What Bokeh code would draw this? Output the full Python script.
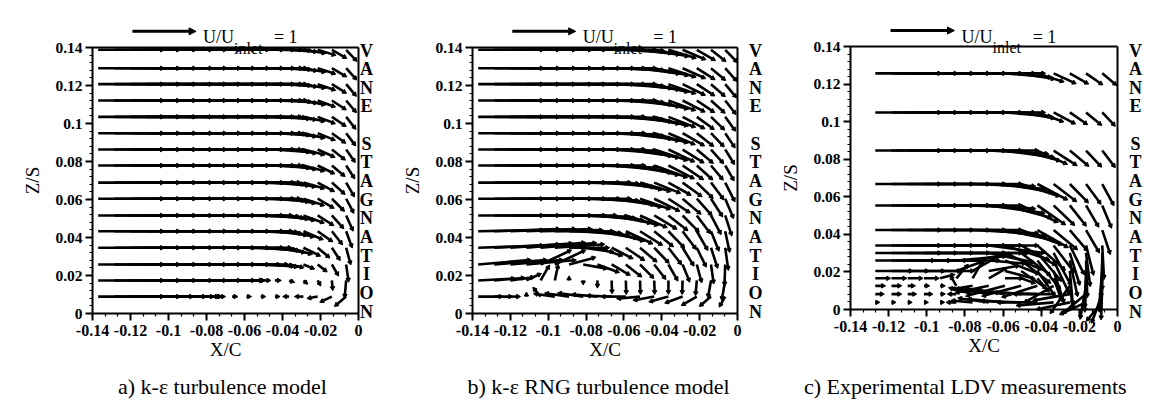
import numpy as np
from bokeh.plotting import figure
from bokeh.layouts import row
from bokeh.models import Label, Arrow, NormalHead, FixedTicker, CustomJSTickFormatter, ColumnDataSource
from bokeh.embed import file_html
from bokeh.resources import INLINE

# ---------------- data ----------------
X_TICKS = [-0.14, -0.12, -0.10, -0.08, -0.06, -0.04, -0.02, 0.0]
X_TICK_LABELS = ["-0.14", "-0.12", "-0.1", "-0.08", "-0.06", "-0.04", "-0.02", "0"]
Z_TICKS = [0.0, 0.02, 0.04, 0.06, 0.08, 0.10, 0.12, 0.14]
Z_TICK_LABELS = ["0", "0.02", "0.04", "0.06", "0.08", "0.1", "0.12", "0.14"]

CAPTIONS = ["a) k-\u03b5 turbulence model", "b) k-\u03b5 RNG turbulence model",
            "c) Experimental LDV measurements"]
VANE_TEXT = "VANE STAGNATION"
REF_SPEED = 1.0   # reference vector: U/U_inlet = 1

# CFD grid (panels a and b): X/C of vector tails, Z/S of rows
X_COLS_AB = [-0.137, -0.1285, -0.120, -0.1115, -0.104, -0.0965, -0.089, -0.0815, -0.074,
             -0.0665, -0.059, -0.0515, -0.044, -0.0365, -0.029, -0.0215, -0.014, -0.0065]
Z_ROWS_AB = [0.0089, 0.0174, 0.0258, 0.0346, 0.0433, 0.0516, 0.0604, 0.0689,
             0.0779, 0.0863, 0.0949, 0.1035, 0.1121, 0.1207, 0.1291, 0.1388]

# a) k-eps : flow angle (deg, 0 = +X/C, negative = toward floor) and speed U/U_inlet
A_ANGLE = [
    [0, 0, 0, 0, 0, 0, 0, 0, 0, 0, 0, 0, 0, 180, 180, -170, -155, -140],
    [0, 0, 0, 0, 0, 0, 0, 0, 0, 0, 0, 0, 0, -20, -40, -60, -85, -95],
    [0, 0, 0, 0, 0, 0, 0, 0, 0, 0, -1, -3, -6, -12, -22, -38, -60, -82],
    [0, 0, 0, 0, 0, 0, 0, 0, 0, 0, -2, -4, -9, -16, -26, -40, -57, -75],
    [0, 0, 0, 0, 0, 0, 0, 0, 0, 0, -1, -3, -7, -13, -23, -35, -52, -70],
    [0, 0, 0, 0, 0, 0, 0, 0, 0, 0, -1, -3, -6, -11, -20, -32, -48, -66],
    [0, 0, 0, 0, 0, 0, 0, 0, 0, 0, 0, -2, -5, -10, -18, -30, -45, -62],
    [0, 0, 0, 0, 0, 0, 0, 0, 0, 0, 0, -2, -5, -9, -16, -28, -42, -60],
    [0, 0, 0, 0, 0, 0, 0, 0, 0, 0, 0, -1, -4, -8, -15, -26, -40, -57],
    [0, 0, 0, 0, 0, 0, 0, 0, 0, 0, 0, -1, -4, -8, -14, -24, -38, -55],
    [0, 0, 0, 0, 0, 0, 0, 0, 0, 0, 0, -1, -3, -7, -13, -22, -36, -53],
    [0, 0, 0, 0, 0, 0, 0, 0, 0, 0, 0, -1, -3, -6, -12, -21, -34, -52],
    [0, 0, 0, 0, 0, 0, 0, 0, 0, 0, 0, 0, -2, -5, -11, -20, -33, -50],
    [0, 0, 0, 0, 0, 0, 0, 0, 0, 0, 0, 0, -2, -5, -10, -19, -32, -50],
    [0, 0, 0, 0, 0, 0, 0, 0, 0, 0, 0, 0, -2, -5, -10, -18, -30, -48],
    [0, 0, 0, 0, 0, 0, 0, 0, 0, 0, 0, 0, -1, -4, -9, -17, -30, -47],
]
A_SPEED = [
    [1.0, 1.0, 0.95, 0.9, 0.8, 0.65, 0.45, 0.25, 0.08, 0.05, 0.04, 0.04, 0.04, 0.06, 0.1, 0.13, 0.17, 0.2],
    [1.0, 1.0, 1.0, 1.0, 1.0, 1.0, 1.0, 0.9, 0.7, 0.45, 0.25, 0.12, 0.06, 0.05, 0.05, 0.06, 0.12, 0.24],
    [1.0, 1.0, 1.0, 1.0, 1.0, 1.0, 1.0, 1.0, 0.95, 0.85, 0.7, 0.5, 0.33, 0.2, 0.15, 0.15, 0.17, 0.24],
    [1.0, 1.0, 1.0, 1.0, 1.0, 1.0, 1.0, 1.0, 1.0, 0.9, 0.75, 0.58, 0.45, 0.34, 0.26, 0.21, 0.2, 0.24],
    [1.0, 1.0, 1.0, 1.0, 1.0, 1.0, 1.0, 1.0, 1.0, 0.92, 0.78, 0.62, 0.48, 0.37, 0.3, 0.25, 0.23, 0.24],
    [1.0, 1.0, 1.0, 1.0, 1.0, 1.0, 1.0, 1.0, 1.0, 0.92, 0.8, 0.65, 0.5, 0.38, 0.31, 0.26, 0.24, 0.23],
    [1.0, 1.0, 1.0, 1.0, 1.0, 1.0, 1.0, 1.0, 1.0, 0.95, 0.82, 0.66, 0.51, 0.39, 0.31, 0.26, 0.24, 0.22],
    [1.0, 1.0, 1.0, 1.0, 1.0, 1.0, 1.0, 1.0, 1.0, 0.95, 0.82, 0.66, 0.51, 0.39, 0.31, 0.26, 0.24, 0.22],
    [1.0, 1.0, 1.0, 1.0, 1.0, 1.0, 1.0, 1.0, 1.0, 0.95, 0.84, 0.68, 0.52, 0.4, 0.31, 0.26, 0.23, 0.21],
    [1.0, 1.0, 1.0, 1.0, 1.0, 1.0, 1.0, 1.0, 1.0, 0.95, 0.84, 0.68, 0.52, 0.4, 0.31, 0.26, 0.23, 0.21],
    [1.0, 1.0, 1.0, 1.0, 1.0, 1.0, 1.0, 1.0, 1.0, 0.95, 0.84, 0.68, 0.52, 0.4, 0.31, 0.26, 0.23, 0.21],
    [1.0, 1.0, 1.0, 1.0, 1.0, 1.0, 1.0, 1.0, 1.0, 0.95, 0.84, 0.68, 0.52, 0.4, 0.31, 0.26, 0.23, 0.21],
    [1.0, 1.0, 1.0, 1.0, 1.0, 1.0, 1.0, 1.0, 1.0, 0.95, 0.85, 0.7, 0.54, 0.41, 0.32, 0.26, 0.23, 0.21],
    [1.0, 1.0, 1.0, 1.0, 1.0, 1.0, 1.0, 1.0, 1.0, 0.95, 0.85, 0.7, 0.54, 0.41, 0.32, 0.26, 0.23, 0.21],
    [1.0, 1.0, 1.0, 1.0, 1.0, 1.0, 1.0, 1.0, 1.0, 0.95, 0.85, 0.7, 0.54, 0.41, 0.32, 0.26, 0.23, 0.21],
    [1.0, 1.0, 1.0, 1.0, 1.0, 1.0, 1.0, 1.0, 1.0, 0.95, 0.85, 0.7, 0.54, 0.41, 0.32, 0.26, 0.23, 0.21],
]

# b) k-eps RNG
B_ANGLE = [
    [0, 0, 0, 90, 130, 172, 172, 172, 175, 178, 180, -175, -170, -165, -160, -150, -140, -120],
    [3, 5, 8, 25, 60, 78, 90, -90, -90, -88, -88, -88, -88, -90, -92, -95, -100, -100],
    [5, 5, 5, 5, 25, 25, 15, -10, -20, -30, -38, -45, -52, -60, -68, -75, -82, -92],
    [2, 3, 4, 5, 5, 4, 0, -8, -18, -27, -34, -40, -46, -52, -58, -64, -72, -82],
    [1, 2, 2, 2, 1, 0, -2, -5, -10, -17, -25, -32, -39, -46, -53, -60, -68, -78],
    [0, 0, 0, 0, 0, 0, -1, -3, -6, -11, -17, -24, -31, -38, -45, -53, -62, -72],
    [0, 0, 0, 0, 0, 0, 0, -2, -4, -8, -13, -19, -26, -33, -40, -48, -57, -67],
    [0, 0, 0, 0, 0, 0, 0, -1, -3, -6, -11, -16, -22, -29, -36, -44, -53, -63],
    [0, 0, 0, 0, 0, 0, 0, 0, -2, -5, -9, -14, -20, -27, -34, -42, -50, -60],
    [0, 0, 0, 0, 0, 0, 0, 0, -1, -4, -8, -12, -18, -25, -32, -40, -48, -58],
    [0, 0, 0, 0, 0, 0, 0, 0, -1, -3, -7, -11, -16, -23, -30, -38, -46, -56],
    [0, 0, 0, 0, 0, 0, 0, 0, -1, -3, -6, -10, -15, -21, -28, -36, -44, -54],
    [0, 0, 0, 0, 0, 0, 0, 0, 0, -2, -5, -9, -14, -20, -27, -34, -42, -52],
    [0, 0, 0, 0, 0, 0, 0, 0, 0, -2, -5, -8, -13, -19, -26, -33, -41, -50],
    [0, 0, 0, 0, 0, 0, 0, 0, 0, -2, -4, -8, -12, -18, -24, -32, -40, -48],
    [0, 0, 0, 0, 0, 0, 0, 0, 0, -1, -4, -7, -11, -17, -23, -30, -38, -46],
]
B_SPEED = [
    [0.35, 0.25, 0.12, 0.03, 0.15, 0.3, 0.35, 0.37, 0.37, 0.36, 0.35, 0.33, 0.3, 0.28, 0.26, 0.24, 0.2, 0.15],
    [0.55, 0.45, 0.35, 0.22, 0.24, 0.22, 0.03, 0.03, 0.08, 0.17, 0.18, 0.18, 0.18, 0.18, 0.18, 0.2, 0.24, 0.28],
    [0.8, 0.8, 0.8, 0.75, 0.5, 0.5, 0.4, 0.35, 0.33, 0.3, 0.28, 0.27, 0.26, 0.26, 0.26, 0.26, 0.27, 0.3],
    [1.0, 1.0, 0.95, 0.9, 0.85, 0.75, 0.6, 0.45, 0.38, 0.34, 0.32, 0.31, 0.3, 0.3, 0.3, 0.3, 0.3, 0.32],
    [1.0, 1.0, 1.0, 1.0, 0.95, 0.9, 0.8, 0.7, 0.6, 0.5, 0.43, 0.38, 0.35, 0.33, 0.32, 0.31, 0.3, 0.3],
    [1.0, 1.0, 1.0, 1.0, 1.0, 0.95, 0.9, 0.8, 0.7, 0.6, 0.5, 0.43, 0.38, 0.35, 0.33, 0.32, 0.3, 0.3],
    [1.0, 1.0, 1.0, 1.0, 1.0, 1.0, 0.95, 0.85, 0.75, 0.65, 0.55, 0.47, 0.41, 0.37, 0.34, 0.32, 0.3, 0.3],
    [1.0, 1.0, 1.0, 1.0, 1.0, 1.0, 0.95, 0.85, 0.75, 0.65, 0.55, 0.47, 0.41, 0.37, 0.34, 0.32, 0.3, 0.3],
    [1.0, 1.0, 1.0, 1.0, 1.0, 1.0, 1.0, 0.95, 0.9, 0.8, 0.7, 0.6, 0.52, 0.42, 0.36, 0.3, 0.26, 0.24],
    [1.0, 1.0, 1.0, 1.0, 1.0, 1.0, 1.0, 0.95, 0.9, 0.8, 0.7, 0.6, 0.52, 0.42, 0.36, 0.3, 0.26, 0.24],
    [1.0, 1.0, 1.0, 1.0, 1.0, 1.0, 1.0, 0.95, 0.9, 0.8, 0.7, 0.6, 0.52, 0.42, 0.36, 0.3, 0.26, 0.24],
    [1.0, 1.0, 1.0, 1.0, 1.0, 1.0, 1.0, 0.95, 0.9, 0.8, 0.7, 0.6, 0.52, 0.42, 0.36, 0.3, 0.26, 0.24],
    [1.0, 1.0, 1.0, 1.0, 1.0, 1.0, 1.0, 0.95, 0.9, 0.8, 0.7, 0.6, 0.52, 0.42, 0.36, 0.3, 0.26, 0.24],
    [1.0, 1.0, 1.0, 1.0, 1.0, 1.0, 1.0, 0.95, 0.9, 0.8, 0.7, 0.6, 0.52, 0.42, 0.36, 0.3, 0.26, 0.24],
    [1.0, 1.0, 1.0, 1.0, 1.0, 1.0, 1.0, 0.95, 0.9, 0.8, 0.7, 0.6, 0.52, 0.42, 0.36, 0.3, 0.26, 0.24],
    [1.0, 1.0, 1.0, 1.0, 1.0, 1.0, 1.0, 0.95, 0.9, 0.8, 0.7, 0.6, 0.52, 0.42, 0.36, 0.3, 0.26, 0.24],
]

# c) LDV measurement grid
X_COLS_C = [-0.127, -0.1185, -0.110, -0.1015, -0.093, -0.0845, -0.076, -0.0675,
            -0.059, -0.0505, -0.042, -0.0335, -0.025, -0.0165, -0.008]
Z_ROWS_C = [0.0038, 0.0082, 0.0126, 0.0166, 0.0205, 0.0261, 0.0301,
            0.0341, 0.0423, 0.0554, 0.0668, 0.0846, 0.1049, 0.1257]
C_ANGLE = [
    [0, 0, 0, 0, 0, 180, 175, 172, 175, 178, 180, -175, -168, -155, -130],
    [0, 0, 0, 0, 0, 180, 165, 170, 172, 175, 178, 180, -170, -140, -110],
    [0, 0, 0, 0, 0, 120, -170, -168, -165, -165, -162, -150, -125, -100, -92],
    [0, 0, 0, 0, 15, 50, 60, 30, 0, -20, -50, -70, -85, -92, -95],
    [0, 0, 0, 0, 0, 20, 30, 10, -15, -35, -55, -72, -85, -92, -95],
    [0, 0, 0, 0, 0, 5, 10, -5, -22, -38, -52, -65, -78, -88, -92],
    [0, 0, 0, 0, 0, 0, 0, -12, -25, -38, -50, -62, -73, -83, -90],
    [0, 0, 0, 0, 0, 0, 0, -8, -18, -30, -42, -53, -64, -76, -87],
    [0, 0, 0, 0, 0, 0, -3, -6, -12, -20, -30, -40, -50, -60, -72],
    [0, 0, 0, 0, 0, 0, -3, -8, -15, -25, -35, -44, -52, -60, -68],
    [0, 0, 0, 0, 0, 0, -2, -5, -10, -18, -28, -38, -46, -54, -62],
    [0, 0, 0, 0, 0, 0, 0, -3, -8, -15, -25, -33, -40, -47, -53],
    [0, 0, 0, 0, 0, 0, 0, 0, -5, -10, -20, -28, -35, -40, -47],
    [0, 0, 0, 0, 0, 0, 0, 0, -5, -10, -18, -25, -30, -35, -40],
]
C_SPEED = [
    [0.03, 0.03, 0.03, 0.03, 0.03, 0.12, 0.3, 0.45, 0.55, 0.6, 0.6, 0.55, 0.5, 0.42, 0.35],
    [0.1, 0.12, 0.1, 0.1, 0.04, 0.1, 0.35, 0.5, 0.6, 0.65, 0.65, 0.6, 0.55, 0.45, 0.45],
    [0.12, 0.12, 0.08, 0.05, 0.04, 0.15, 0.3, 0.5, 0.6, 0.6, 0.55, 0.5, 0.5, 0.5, 0.5],
    [0.2, 0.2, 0.2, 0.2, 0.2, 0.25, 0.3, 0.3, 0.25, 0.2, 0.25, 0.35, 0.45, 0.5, 0.5],
    [0.55, 0.55, 0.55, 0.55, 0.5, 0.45, 0.45, 0.45, 0.45, 0.45, 0.45, 0.5, 0.5, 0.55, 0.55],
    [0.9, 0.9, 0.9, 0.9, 0.9, 0.75, 0.6, 0.55, 0.55, 0.55, 0.55, 0.55, 0.55, 0.55, 0.55],
    [1.0, 1.0, 1.0, 1.0, 1.0, 1.0, 0.85, 0.7, 0.6, 0.55, 0.55, 0.55, 0.5, 0.5, 0.55],
    [1.0, 1.0, 1.0, 1.0, 1.0, 1.0, 1.0, 0.85, 0.7, 0.6, 0.55, 0.5, 0.48, 0.45, 0.5],
    [1.0, 1.0, 1.0, 1.0, 1.0, 1.0, 1.0, 0.9, 0.78, 0.65, 0.52, 0.45, 0.4, 0.38, 0.37],
    [1.0, 1.0, 1.0, 1.0, 1.0, 1.0, 0.95, 0.85, 0.72, 0.6, 0.5, 0.42, 0.38, 0.36, 0.35],
    [1.0, 1.0, 1.0, 1.0, 1.0, 1.0, 0.95, 0.85, 0.72, 0.6, 0.5, 0.42, 0.38, 0.36, 0.35],
    [1.0, 1.0, 1.0, 1.0, 1.0, 1.0, 1.0, 0.9, 0.75, 0.6, 0.48, 0.4, 0.35, 0.32, 0.3],
    [1.0, 1.0, 1.0, 1.0, 1.0, 1.0, 0.95, 0.85, 0.7, 0.5, 0.4, 0.35, 0.3, 0.28, 0.26],
    [1.0, 1.0, 1.0, 1.0, 1.0, 1.0, 0.95, 0.85, 0.7, 0.5, 0.4, 0.35, 0.3, 0.28, 0.26],
]

# ---------------- style ----------------
VEC_LEN = 0.0335          # X/C length drawn for a unit vector
FONT = "Liberation Serif"
VANE_TOP_PX, VANE_BOTTOM_PX = 50, 311   # centres of first and last stacked letters
CAPTION_PX = 386


def tick_formatter(vals, labs):
    return CustomJSTickFormatter(args=dict(vals=vals, labs=labs), code="""
        let b = 0;
        for (let i = 0; i < vals.length; i++) {
            if (Math.abs(vals[i] - tick) < Math.abs(vals[b] - tick)) { b = i; }
        }
        return labs[b];
    """)


def make_panel(xs, zs, ang, spd, caption, cap_x, vane_x, width, box):
    # box = (left, right, top, bottom) pixel edges of the plot box inside this figure
    bl, br, bt, bb = box
    kx = (br - bl) / 0.14
    ky = (bb - bt) / 0.14
    xr = (-0.14 - bl / kx, (width - bl) / kx - 0.14)
    yr = (-(402 - bb) / ky, bb / ky)
    p = figure(width=width, height=402, x_range=xr, y_range=yr,
               output_backend="svg", toolbar_location=None, min_border=0)
    p.xgrid.visible = False
    p.ygrid.visible = False
    p.background_fill_color = "white"
    p.border_fill_color = "white"
    p.outline_line_color = None

    p.xaxis.fixed_location = 0.0
    p.yaxis.fixed_location = -0.14
    p.xaxis.bounds = (-0.14, 0.0)
    p.yaxis.bounds = (0.0, 0.14)
    p.xaxis.ticker = FixedTicker(ticks=X_TICKS, minor_ticks=list(np.arange(-0.14, 0.0001, 0.02 / 3)))
    p.yaxis.ticker = FixedTicker(ticks=Z_TICKS, minor_ticks=list(np.arange(0.0, 0.1401, 0.004)))
    p.xaxis.formatter = tick_formatter(X_TICKS, X_TICK_LABELS)
    p.yaxis.formatter = tick_formatter(Z_TICKS, Z_TICK_LABELS)
    p.xaxis.axis_label = "X/C"
    p.yaxis.axis_label = "Z/S"
    for ax in (p.xaxis[0], p.yaxis[0]):
        ax.axis_line_width = 2
        ax.axis_line_color = "black"
        ax.major_tick_line_width = 2
        ax.minor_tick_line_width = 1.2
        ax.major_tick_out = 7
        ax.major_tick_in = 0
        ax.minor_tick_out = 3
        ax.minor_tick_in = 0
        ax.major_label_text_font = FONT
        ax.major_label_text_font_style = "bold"
        ax.major_label_text_color = "black"
        ax.axis_label_text_font = FONT
        ax.axis_label_text_font_size = "19px"
        ax.axis_label_text_font_style = "normal"
        ax.axis_label_text_color = "black"
    p.xaxis.major_label_text_font_size = "16px"
    p.yaxis.major_label_text_font_size = "15.5px"
    p.xaxis.major_label_standoff = 4
    p.xaxis.axis_label_standoff = 0
    p.yaxis.major_label_standoff = 3
    p.yaxis.axis_label_standoff = 9

    # plot box (top and right edges)
    p.segment(x0=[-0.14, 0.0], y0=[0.14, 0.0], x1=[0.0, 0.0], y1=[0.14, 0.14],
              line_color="black", line_width=2)

    # vectors
    x0, z0, x1, z1, rot = [], [], [], [], []
    for j, z in enumerate(zs):
        for i, x in enumerate(xs):
            t = np.radians(ang[j][i])
            L = VEC_LEN * spd[j][i]
            x0.append(x)
            z0.append(z)
            x1.append(x + L * np.cos(t))
            z1.append(z + L * np.sin(t))
            rot.append(t - np.pi / 2)
    src = ColumnDataSource(dict(x0=x0, z0=z0, x1=x1, z1=z1, rot=rot))
    p.segment("x0", "z0", "x1", "z1", source=src, line_color="black", line_width=2.6)
    p.scatter("x1", "z1", source=src, marker="triangle", size=4.5, angle="rot",
              fill_color="black", line_color="black")

    # reference vector and its label
    p.add_layout(Arrow(x_start=-0.119, y_start=0.1485, x_end=-0.119 + VEC_LEN * REF_SPEED, y_end=0.1485,
                       line_width=3, line_color="black",
                       end=NormalHead(size=7, fill_color="black", line_color="black")))
    p.add_layout(Label(x=-0.0818, y=0.1453, text="U/U", text_font=FONT, text_font_size="18px",
                       text_color="black", text_baseline="alphabetic"))
    p.add_layout(Label(x=-0.0655, y=0.1395, text="inlet", text_font=FONT, text_font_size="16px",
                       text_color="black", text_baseline="alphabetic"))
    p.add_layout(Label(x=-0.0445, y=0.1453, text="= 1", text_font=FONT, text_font_size="18px",
                       text_color="black", text_baseline="alphabetic"))

    # stacked side text, one letter per line
    n = len(VANE_TEXT)
    for k, ch in enumerate(VANE_TEXT):
        if ch == " ":
            continue
        py = VANE_TOP_PX + (VANE_BOTTOM_PX - VANE_TOP_PX) * k / (n - 1)
        p.add_layout(Label(x=vane_x, y=(bb - py) / ky, text=ch, text_font=FONT,
                           text_font_size="18px", text_font_style="bold", text_color="black",
                           text_align="center", text_baseline="middle"))
    # caption
    p.add_layout(Label(x=cap_x, y=(bb - CAPTION_PX) / ky, text=caption, text_font=FONT,
                       text_font_size="22px", text_color="black",
                       text_align="center", text_baseline="middle"))
    return p


pa = make_panel(X_COLS_AB, Z_ROWS_AB, A_ANGLE, A_SPEED, CAPTIONS[0], -0.0716, 0.0042,
                380, (92, 358, 47, 313))
pb = make_panel(X_COLS_AB, Z_ROWS_AB, B_ANGLE, B_SPEED, CAPTIONS[1], -0.0734, 0.0095,
                395, (92, 357, 47, 313))
pc = make_panel(X_COLS_C, Z_ROWS_C, C_ANGLE, C_SPEED, CAPTIONS[2], -0.0797, 0.0094,
                379, (75, 342, 46, 309))

layout = row(pa, pb, pc)
open("out.html", "w").write(file_html(layout, INLINE))
